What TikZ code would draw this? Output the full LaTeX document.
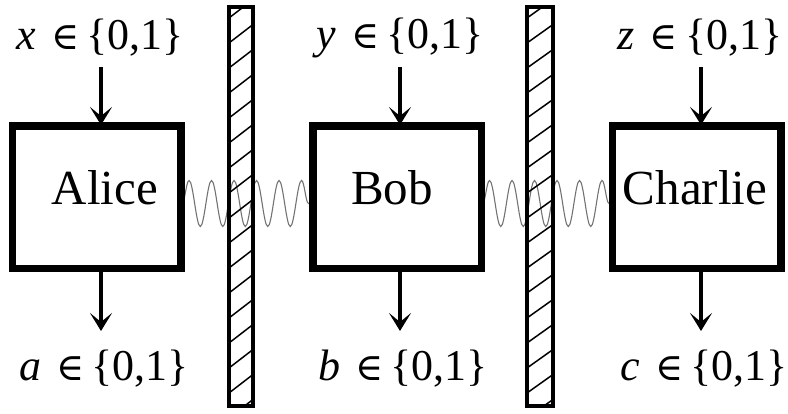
\documentclass[tikz,border=0pt]{standalone}
\usepackage{fontspec}
\setmainfont{Liberation Serif}
\newfontfamily\symf{DejaVu Serif}
\usetikzlibrary{arrows.meta,decorations.pathmorphing}
\newcommand\inset[1]{{\itshape #1}\hspace{15pt}{\symf\fontsize{38}{40}\selectfont ∈}\hspace{7pt}\{0,1\}}
\begin{document}
\begin{tikzpicture}[x=1pt,y=1pt,
  party/.style={draw, fill=white, line width=5pt, minimum width=166pt, minimum height=140pt, inner sep=0pt},
  pname/.style={font=\fontsize{49}{50}\selectfont, anchor=base, inner sep=0pt},
  lab/.style={font=\fontsize{44}{46}\selectfont, inner sep=0pt},
  io/.style={line width=4pt, -{Stealth[length=18pt,width=22pt,inset=9pt]}},
  wave/.style={black!55, line width=1.1pt, decorate, decoration={snake, amplitude=23pt, segment length=22.5pt}},
  wall/.style={line width=4pt},
  hatch/.style={line width=1.5pt}]
\useasboundingbox (0,0) rectangle (788,413);

% party boxes
\node[party] (A) at (96.5,215.5) {};
\node[party] (B) at (397,215.5) {};
\node[party] (C) at (696.5,215.5) {};

% waves
\draw[wave] ([yshift=-6pt]A.east) -- ([yshift=-6pt]B.west);
\draw[wave] ([yshift=-6pt]B.east) -- ([yshift=-6pt]C.west);
% box outlines on top of wave ends
\draw[line width=5pt] (A.south west) rectangle (A.north east);
\draw[line width=5pt] (B.south west) rectangle (B.north east);
\draw[line width=5pt] (C.south west) rectangle (C.north east);

% names
\node[pname] (At) at (105,208) {Alice};
\node[pname] (Bt) at (392,208) {Bob};
\node[pname] (Ct) at (695,208) {Charlie};

% walls
\foreach \xa/\xb in {229/253, 527/553}{
  \begin{scope}
    \clip (\xa,7) rectangle (\xb,406);
    \foreach \k in {-4,...,12}
      \draw[hatch] (\xa,{95+25*\k}) -- (\xb,{113.5+25*\k});
  \end{scope}
  \draw[wall] (\xa,7) rectangle (\xb,406);
}

% inputs
\node[lab] (xl) at (100,375) {\inset{x}};
\node[lab] (yl) at (400,375) {\inset{y}};
\node[lab] (zl) at (700,375) {\inset{z}};
\coordinate (xs) at (101,346);
\coordinate (ys) at (400,346);
\coordinate (zs) at (701,346);
\draw[io] (xs) -- (xs |- A.north);
\draw[io] (ys) -- (ys |- B.north);
\draw[io] (zs) -- (zs |- C.north);

% outputs
\coordinate (ae) at (101,82);
\coordinate (be) at (400,82);
\coordinate (ce) at (701,82);
\draw[io] (ae |- A.south) -- (ae);
\draw[io] (be |- B.south) -- (be);
\draw[io] (ce |- C.south) -- (ce);
\node[lab] (al) at (104,44) {\inset{a}};
\node[lab] (bl) at (403,44) {\inset{b}};
\node[lab] (cl) at (704,44) {\inset{c}};
\end{tikzpicture}
\end{document}
